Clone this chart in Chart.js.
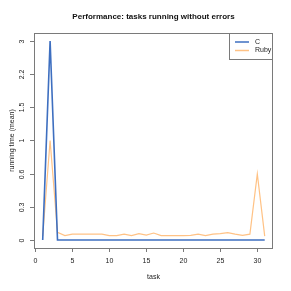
<!DOCTYPE html>
<html><head><meta charset="utf-8">
<script src="https://cdn.jsdelivr.net/npm/chart.js@4/dist/chart.umd.min.js"></script>
<style>html,body{margin:0;padding:0;background:#fff;overflow:hidden}</style>
</head><body>
<canvas id="c" width="291" height="291"></canvas>
<script>
const chartTitle = 'Performance: tasks running without errors';
const xTitle = 'task';
const yTitle = 'running time (mean)';
const tasks = [1,2,3,4,5,6,7,8,9,10,11,12,13,14,15,16,17,18,19,20,21,22,23,24,25,26,27,28,29,30,31];
const cValues = [0,3,0,0,0,0,0,0,0,0,0,0,0,0,0,0,0,0,0,0,0,0,0,0,0,0,0,0,0,0,0];
const rubyValues = [0.028,1.0,0.055,0.031,0.042,0.042,0.042,0.042,0.042,0.031,0.031,0.042,0.031,0.045,0.035,0.05,0.031,0.031,0.031,0.031,0.033,0.042,0.031,0.042,0.045,0.053,0.042,0.033,0.042,0.585,0.028];
const seriesNames = ['C','Ruby'];
const seriesColors = ['#3e6fc0','#ffc285'];
const xTicks = [0,5,10,15,20,25,30];
const yTickLabels = ['0','0.3','0.6','1','1.5','2.2','3'];
const yMaxValue = 3;

const yTop = Math.log1p(yMaxValue);
const yExt = yTop * 0.04;
const toPts = vals => tasks.map((t,i) => ({x:t, y:Math.log1p(vals[i])}));

const FONT = '"Liberation Sans", Arial, sans-serif';
const axisColor = '#7a7a7a';

const decor = {
  id:'decor',
  afterDraw(chart){
    const ctx = chart.ctx, a = chart.chartArea;
    const xs = chart.scales.x, ys = chart.scales.y;
    ctx.save();
    ctx.strokeStyle = axisColor; ctx.lineWidth = 1;
    ctx.strokeRect(Math.round(a.left)+0.5, Math.round(a.top)+0.5, Math.round(a.right-a.left)-1, Math.round(a.bottom-a.top));
    ctx.fillStyle = '#222';
    ctx.font = '7px ' + FONT;
    // x ticks
    ctx.textAlign='center'; ctx.textBaseline='middle';
    xTicks.forEach(t => {
      const px = Math.round(xs.getPixelForValue(t))+0.5;
      ctx.beginPath(); ctx.moveTo(px, a.bottom); ctx.lineTo(px, a.bottom+4); ctx.stroke();
      ctx.fillText(String(t), px, a.bottom+13);
    });
    // y ticks
    yTickLabels.forEach((lab,k) => {
      const v = k*yTop/(yTickLabels.length-1);
      const py = Math.round(ys.getPixelForValue(v))+0.5;
      ctx.beginPath(); ctx.moveTo(a.left-4, py); ctx.lineTo(a.left, py); ctx.stroke();
      ctx.save(); ctx.translate(a.left-12, py); ctx.rotate(-Math.PI/2);
      ctx.fillText(lab, 0, 0); ctx.restore();
    });
    // axis titles
    ctx.fillText(xTitle, (a.left+a.right)/2, a.bottom+29);
    ctx.save(); ctx.translate(12, (a.top+a.bottom)/2); ctx.rotate(-Math.PI/2);
    ctx.fillText(yTitle, 0, 0); ctx.restore();
    // title
    ctx.font = 'bold 8px ' + FONT;
    ctx.fillStyle = '#111';
    ctx.fillText(chartTitle, (a.left+a.right)/2, 17);
    // legend
    const lx0 = 229.5, lx1 = Math.round(a.right)-0.5, ly0 = Math.round(a.top)+0.5, ly1 = 59.5;
    ctx.strokeStyle = axisColor;
    ctx.strokeRect(lx0, ly0, lx1-lx0, ly1-ly0);
    ctx.font = '7px ' + FONT; ctx.textAlign='left'; ctx.fillStyle='#222';
    chart.data.datasets.forEach((ds,i) => {
      const yy = 42 + i*8.5;
      ctx.strokeStyle = ds.borderColor; ctx.lineWidth = 1.5;
      ctx.beginPath(); ctx.moveTo(235, yy); ctx.lineTo(249, yy); ctx.stroke();
      ctx.fillText(ds.label, 255, yy);
    });
    ctx.restore();
  }
};

new Chart(document.getElementById('c'), {
  type:'line',
  data:{ datasets:[
    {label:seriesNames[0], data:toPts(cValues), borderColor:seriesColors[0], borderWidth:1.6, pointRadius:0, tension:0},
    {label:seriesNames[1], data:toPts(rubyValues), borderColor:seriesColors[1], borderWidth:1.2, pointRadius:0, tension:0}
  ]},
  options:{
    responsive:false, animation:false, devicePixelRatio:1,
    layout:{padding:{left:34, right:18, top:33, bottom:43}},
    plugins:{legend:{display:false}, tooltip:{enabled:false}, title:{display:false}},
    scales:{
      x:{type:'linear', min:-0.176, max:32.12, display:false},
      y:{type:'linear', min:-yExt, max:yTop+yExt, display:false}
    }
  },
  plugins:[decor]
});
</script>
</body></html>
